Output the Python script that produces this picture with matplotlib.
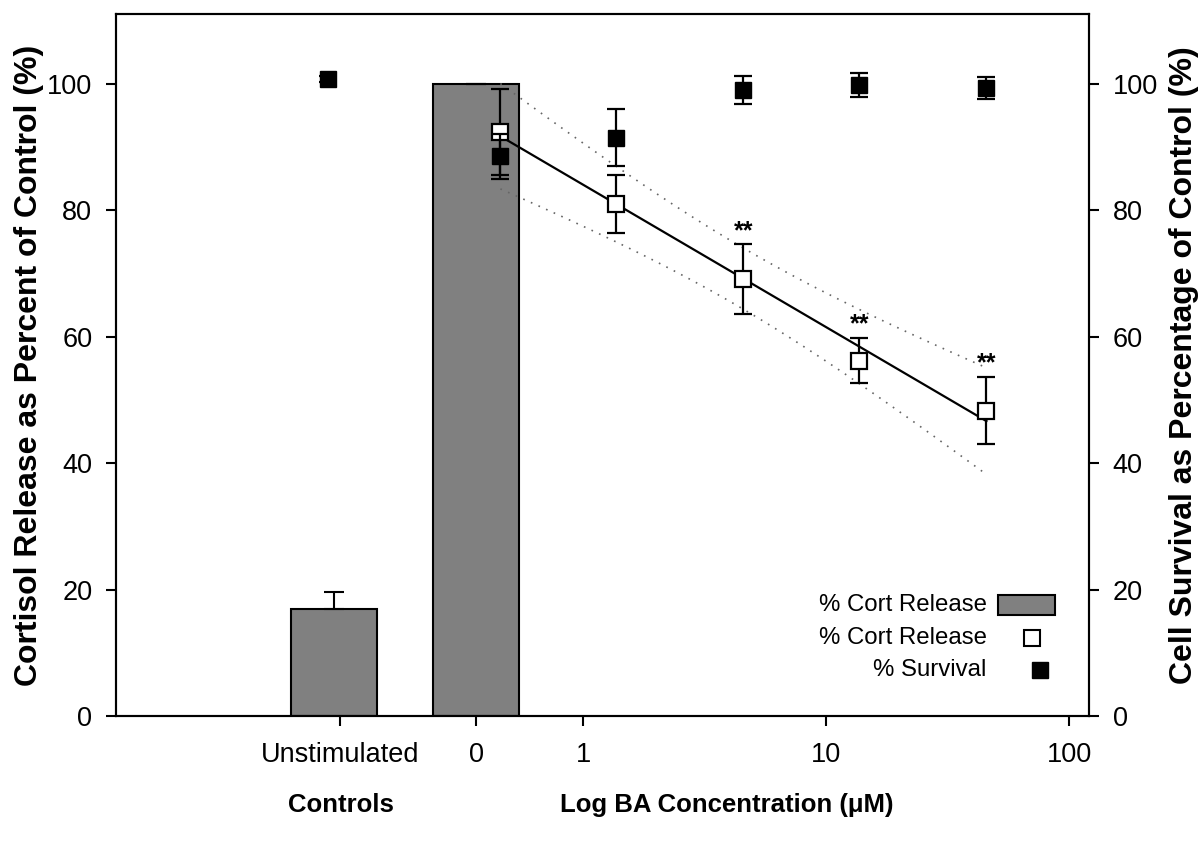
import matplotlib.pyplot as plt
from matplotlib.patches import Rectangle
import numpy as np

plt.rcParams['font.family'] = ['Liberation Sans', 'DejaVu Sans']

# control groups (bars)
ctrl_labels = ['Unstimulated', '0']
ctrl_cort = [16.9, 100.0]
ctrl_cort_err = [2.7, 0.0]
ctrl_survival = [100.7]
ctrl_survival_err = [0.5]

# BA concentrations (uM) and responses
ba_conc = np.array([0.457, 1.37, 4.57, 13.7, 45.7])
cort_release = np.array([92.3, 80.9, 69.1, 56.2, 48.3])
cort_err = np.array([6.8, 4.6, 5.5, 3.6, 5.3])
survival = np.array([88.5, 91.4, 99.0, 99.8, 99.3])
survival_err = np.array([3.6, 4.5, 2.2, 1.9, 1.8])
signif = ['', '', '**', '**', '**']

# regression stats for the confidence band
fit_rse = 3.4
t_crit = 3.182

log_ticks = [1, 10, 100]

fig = plt.figure(figsize=(12.04, 8.42), dpi=100)
ax = fig.add_axes([0.0963, 0.1496, 0.8082, 0.8338])

ctrl_pos = np.array([-1.0, -0.44])
bar_shift = np.array([-0.025, 0.0])
lx = np.log10(ba_conc)

# bars for controls
ax.bar(ctrl_pos + bar_shift, ctrl_cort, width=0.354, color='#808080',
       edgecolor='black', linewidth=1.5, zorder=2)
ax.errorbar(ctrl_pos + bar_shift, ctrl_cort,
            yerr=[np.zeros(2), ctrl_cort_err], fmt='none', ecolor='black',
            elinewidth=1.5, capsize=7, capthick=1.5, zorder=3)

# linear fit against log concentration + 95% confidence band
slope, icpt = np.polyfit(lx, cort_release, 1)
xs = np.linspace(lx.min(), lx.max(), 100)
fit = slope * xs + icpt
sxx = np.sum((lx - lx.mean()) ** 2)
half = t_crit * fit_rse * np.sqrt(1 / len(lx) + (xs - lx.mean()) ** 2 / sxx)
ax.plot(xs, fit, color='black', lw=1.6, zorder=4)
ax.plot(xs, fit + half, color='#666666', lw=1.2, ls=(0, (1, 4)), zorder=4)
ax.plot(xs, fit - half, color='#666666', lw=1.2, ls=(0, (1, 4)), zorder=4)

# cortisol release (open squares)
ax.errorbar(lx, cort_release, yerr=cort_err, fmt='s', ms=11, mfc='white',
            mec='black', mew=1.6, ecolor='black', elinewidth=1.6,
            capsize=6.5, capthick=1.6, zorder=5)

# survival (filled squares)
ax.errorbar(np.r_[ctrl_pos[0] - 0.05, lx], np.r_[ctrl_survival, survival],
            yerr=np.r_[ctrl_survival_err, survival_err], fmt='s', ms=11,
            mfc='black', mec='black', ecolor='black', elinewidth=1.6,
            capsize=6.5, capthick=1.6, zorder=6)

for x, y, e, s in zip(lx, cort_release, cort_err, signif):
    if s:
        ax.annotate(s, (x, y + e), xytext=(0, 1), textcoords='offset points',
                    ha='center', va='bottom', fontsize=18, fontweight='bold')

ax.set_xlim(-1.922, 2.082)
ax.set_ylim(0, 111)
ax.set_xticks(list(ctrl_pos) + list(np.log10(log_ticks)))
ax.set_xticklabels(ctrl_labels + [str(t) for t in log_ticks])
ax.set_yticks(range(0, 101, 20))

for sp in ax.spines.values():
    sp.set_linewidth(1.5)
ax.tick_params(axis='both', direction='out', length=7, width=1.5,
               labelsize=19.5)
ax.tick_params(axis='y', pad=10)
ax.tick_params(axis='x', pad=12)

ax2 = ax.twinx()
ax2.set_ylim(0, 111)
ax2.set_yticks(range(0, 101, 20))
ax2.tick_params(axis='y', direction='out', length=7, width=1.5,
                labelsize=19.5, pad=10)
for sp in ax2.spines.values():
    sp.set_linewidth(1.5)

ax.set_ylabel('Cortisol Release as Percent of Control (%)', fontsize=23,
              fontweight='bold', labelpad=2)
ax2.set_ylabel('Cell Survival as Percentage of Control (%)', fontsize=23,
               fontweight='bold', rotation=90, labelpad=8)

fig.text(0.283, 0.044, 'Controls', ha='center', va='center', fontsize=18.5,
         fontweight='bold')
fig.text(0.604, 0.044, 'Log BA Concentration (\u03bcM)', ha='center',
         va='center', fontsize=18.5, fontweight='bold')

# legend, drawn by hand so the labels are right-aligned
tx = 0.895
rows = [0.158, 0.111, 0.0655]
names = ['% Cort Release', '% Cort Release', '% Survival']
for y, n in zip(rows, names):
    ax.text(tx, y, n, transform=ax.transAxes, ha='right', va='center',
            fontsize=17.3)
ax.add_patch(Rectangle((0.9065, rows[0] - 0.0145), 0.0585, 0.029,
                       transform=ax.transAxes, facecolor='#808080',
                       edgecolor='black', lw=1.5, zorder=7))
ax.plot([0.941], [rows[1]], 's', ms=11, mfc='white', mec='black', mew=1.5,
        transform=ax.transAxes, zorder=7)
ax.plot([0.950], [rows[2]], 's', ms=11, mfc='black', mec='black',
        transform=ax.transAxes, zorder=7)

fig.savefig('out.png', dpi=100)
